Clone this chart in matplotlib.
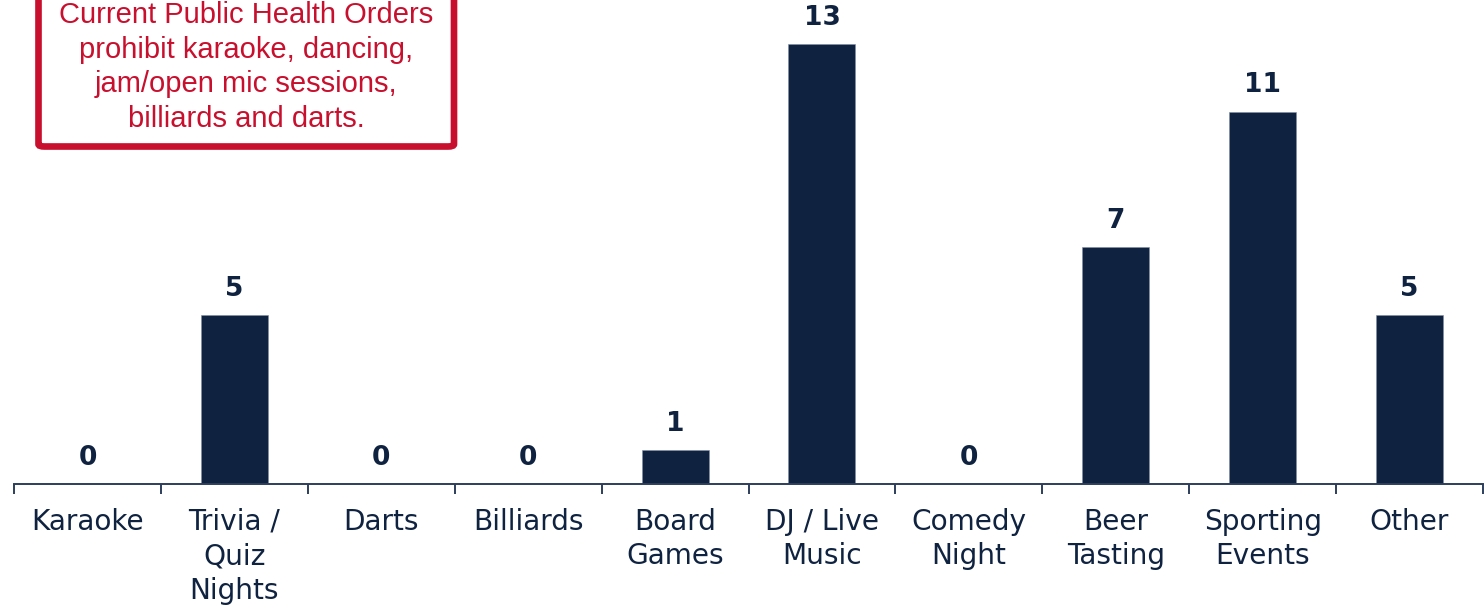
import matplotlib.pyplot as plt
from matplotlib import font_manager
from matplotlib.patches import FancyBboxPatch

categorias = ["Karaoke", "Trivia /\nQuiz\nNights", "Darts", "Billiards", "Board\nGames",
              "DJ / Live\nMusic", "Comedy\nNight", "Beer\nTasting", "Sporting\nEvents", "Other"]
valores = [0, 5, 0, 0, 1, 13, 0, 7, 11, 5]
nota = ("Current Public Health Orders\nprohibit karaoke, dancing,\n"
        "jam/open mic sessions,\nbilliards and darts.")

NAVY = "#0f2341"
RED = "#c8102e"
W, H = 1484, 606

plt.rcParams["font.family"] = "DejaVu Sans"

# Liberation Sans normal (no la Narrow)
arial = None
for f in font_manager.fontManager.ttflist:
    if f.name == "Liberation Sans" and f.style == "normal" and f.weight in (400, "normal") \
            and "Narrow" not in f.fname:
        arial = font_manager.FontProperties(fname=f.fname)
        break
if arial is None:
    arial = font_manager.FontProperties(family="Liberation Sans")
arial.set_size(21)

fig = plt.figure(figsize=(W / 100, H / 100), dpi=100)
ax = fig.add_axes([14 / W, 122 / H, (1483 - 14) / W, 484 / H])

x = list(range(len(categorias)))
ax.bar(x, valores, width=0.456, color=NAVY, edgecolor="#7f8ea3", linewidth=0.4)

for xi, v in zip(x, valores):
    ax.annotate(str(v), (xi, v), xytext=(0, 9.5), textcoords="offset points",
                ha="center", va="bottom", fontsize=19, fontweight="bold", color=NAVY)

ax.set_xlim(-0.5, len(categorias) - 0.5)
ax.set_ylim(0, 14.3)
ax.set_xticks(x)
ax.set_xticklabels(categorias, fontsize=20.2, color=NAVY, linespacing=1.3)
ax.set_xticks([i - 0.5 for i in range(len(categorias) + 1)], minor=True)
ax.tick_params(axis="x", which="major", length=0, pad=17)
ax.tick_params(axis="x", which="minor", length=7.5, width=1.4, color="#2c3e5a")
ax.set_yticks([])
for s in ["top", "right", "left"]:
    ax.spines[s].set_visible(False)
ax.spines["bottom"].set_color("#2c3e5a")
ax.spines["bottom"].set_linewidth(1.4)

# caja de la nota
caja = FancyBboxPatch((38.5 / W, 1 - 146.5 / H), (454 - 38.5) / W, 170 / H,
                      boxstyle="round,pad=0,rounding_size=0.004",
                      transform=fig.transFigure, facecolor="white",
                      edgecolor=RED, linewidth=4.8, clip_on=False)
fig.patches.append(caja)
fig.text(246 / W, 1 - 67 / H, nota, ha="center", va="center",
         color=RED, fontproperties=arial, linespacing=1.3)

fig.savefig("out.png", dpi=100)
